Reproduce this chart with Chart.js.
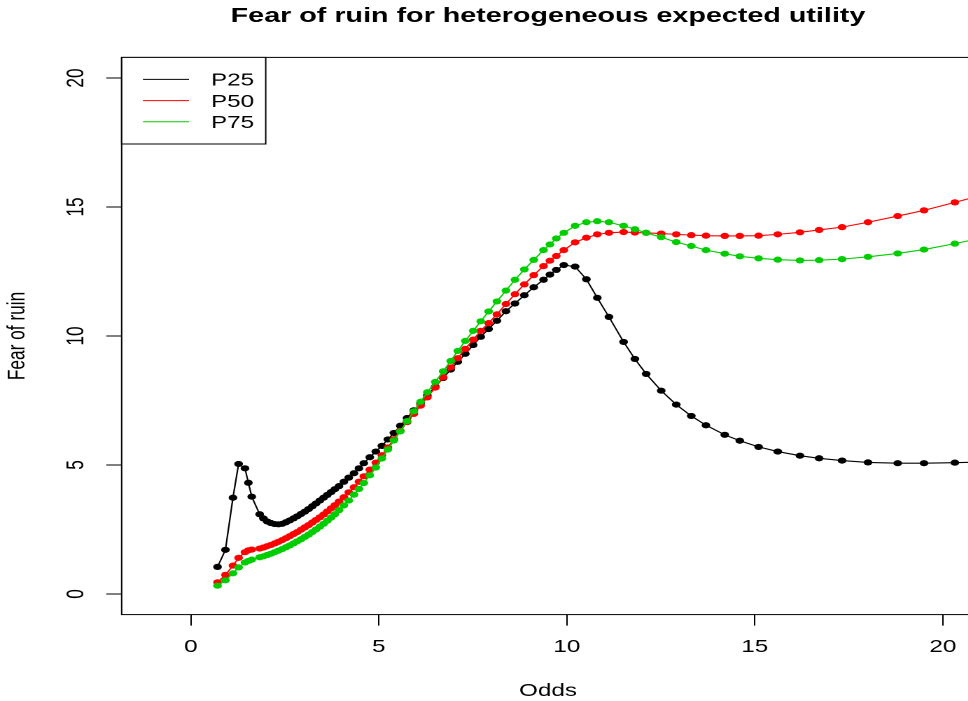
<!DOCTYPE html>
<html>
<head>
<meta charset="utf-8">
<script src="https://cdn.jsdelivr.net/npm/chart.js@4.4.1/dist/chart.umd.min.js"></script>
<style>
  html, body { margin: 0; padding: 0; background: #fff; overflow: hidden; }
  #chart { display: block; }
</style>
</head>
<body>
<!-- drawn at 700 logical px wide, shown 1.4x wider like the original plot -->
<canvas id="chart" width="700" height="701" style="width:980px;height:701px"></canvas>
<script>
const odds = [0.71, 0.92, 1.12, 1.27, 1.44, 1.53, 1.62, 1.83, 1.93, 2.03, 2.13, 2.23, 2.33, 2.43, 2.53, 2.63, 2.73, 2.83, 2.93, 3.03,
  3.13, 3.23, 3.33, 3.43, 3.53, 3.63, 3.73, 3.83, 3.94, 4.07, 4.2, 4.34, 4.47, 4.6, 4.76, 4.92, 5.08, 5.24, 5.4, 5.57,
  5.75, 5.93, 6.11, 6.29, 6.5, 6.71, 6.91, 7.1, 7.3, 7.51, 7.71, 7.92, 8.14, 8.38, 8.62, 8.87, 9.12, 9.38, 9.55, 9.72,
  9.92, 10.22, 10.52, 10.81, 11.12, 11.51, 11.81, 12.11, 12.51, 12.91, 13.31, 13.7, 14.2, 14.6, 15.1, 15.61, 16.2, 16.71, 17.32, 18.01,
  18.8, 19.5, 20.32, 21.2];

const p25 = [1.05, 1.71, 3.73, 5.04, 4.87, 4.31, 3.77, 3.09, 2.93, 2.81, 2.75, 2.71, 2.70, 2.72, 2.78, 2.85, 2.93, 3.01, 3.10, 3.19,
  3.29, 3.40, 3.51, 3.62, 3.73, 3.84, 3.95, 4.06, 4.18, 4.35, 4.51, 4.68, 4.87, 5.07, 5.30, 5.52, 5.74, 5.99, 6.24, 6.52,
  6.82, 7.12, 7.40, 7.70, 8.04, 8.37, 8.70, 9.00, 9.31, 9.65, 9.97, 10.27, 10.59, 10.96, 11.26, 11.58, 11.89, 12.18, 12.38, 12.56,
  12.75, 12.69, 12.20, 11.48, 10.74, 9.77, 9.11, 8.53, 7.88, 7.34, 6.90, 6.54, 6.17, 5.94, 5.70, 5.52, 5.36, 5.26, 5.17, 5.10,
  5.07, 5.07, 5.09, 5.12];

const p50 = [0.45, 0.74, 1.10, 1.40, 1.62, 1.69, 1.72, 1.76, 1.80, 1.85, 1.90, 1.96, 2.02, 2.09, 2.16, 2.24, 2.32, 2.40, 2.49, 2.58,
  2.67, 2.77, 2.87, 2.97, 3.08, 3.20, 3.32, 3.44, 3.58, 3.75, 3.94, 4.14, 4.35, 4.56, 4.82, 5.09, 5.38, 5.68, 6.00, 6.33,
  6.66, 6.98, 7.30, 7.62, 8.00, 8.40, 8.78, 9.14, 9.50, 9.86, 10.20, 10.50, 10.84, 11.24, 11.62, 12.00, 12.36, 12.71, 12.92, 13.10,
  13.33, 13.63, 13.81, 13.94, 14.00, 14.03, 14.01, 14.00, 13.97, 13.94, 13.91, 13.89, 13.88, 13.88, 13.89, 13.94, 14.02, 14.11, 14.22, 14.41,
  14.65, 14.87, 15.18, 15.52];

const p75 = [0.32, 0.53, 0.80, 1.03, 1.22, 1.28, 1.33, 1.42, 1.46, 1.51, 1.56, 1.62, 1.68, 1.74, 1.81, 1.88, 1.96, 2.04, 2.12, 2.21,
  2.30, 2.40, 2.50, 2.61, 2.72, 2.84, 2.96, 3.09, 3.25, 3.43, 3.62, 3.85, 4.07, 4.30, 4.60, 4.90, 5.25, 5.60, 5.95, 6.30,
  6.70, 7.08, 7.45, 7.82, 8.22, 8.63, 9.03, 9.42, 9.81, 10.20, 10.57, 10.95, 11.34, 11.76, 12.18, 12.58, 12.95, 13.33, 13.55, 13.78,
  14.00, 14.27, 14.41, 14.45, 14.41, 14.27, 14.14, 14.00, 13.83, 13.64, 13.49, 13.33, 13.19, 13.09, 13.01, 12.96, 12.93, 12.94, 12.98, 13.07,
  13.20, 13.35, 13.58, 13.85];

const seriesNames = ['P25', 'P50', 'P75'];
const seriesColors = ['#000000', '#ff0000', '#00cd00'];
const xTicks = [0, 5, 10, 15, 20];
const yTicks = [0, 5, 10, 15, 20];

const FONT = '"Liberation Sans", Arial, Helvetica, sans-serif';
Chart.defaults.font.family = FONT;
Chart.defaults.color = '#000';

function pairs(ys) {
  return odds.map((x, i) => ({ x: x, y: ys[i] }));
}

// frame, main title and legend box, drawn the R way
const rStuff = {
  id: 'rStuff',
  afterDraw(chart) {
    const ctx = chart.ctx;
    const a = chart.chartArea;
    ctx.save();
    ctx.strokeStyle = '#000';
    ctx.lineWidth = 1;
    ctx.strokeRect(a.left, a.top, a.right - a.left, a.bottom - a.top);

    ctx.fillStyle = '#000';
    ctx.font = 'bold 20.5px ' + FONT;
    ctx.textAlign = 'center';
    ctx.textBaseline = 'alphabetic';
    ctx.fillText('Fear of ruin for heterogeneous expected utility', (a.left + a.right) / 2, 22);

    // legend
    const bx = a.left, by = a.top, bw = 102.9, bh = 86.6;
    ctx.fillStyle = '#fff';
    ctx.fillRect(bx, by, bw, bh);
    ctx.strokeRect(bx, by, bw, bh);
    ctx.font = '17.3px ' + FONT;
    ctx.textAlign = 'left';
    seriesNames.forEach((name, i) => {
      const y = by + 22 + i * 21.2;
      ctx.strokeStyle = seriesColors[i];
      ctx.beginPath();
      ctx.moveTo(bx + 15.2, y);
      ctx.lineTo(bx + 48.1, y);
      ctx.stroke();
      ctx.fillStyle = '#000';
      ctx.fillText(name, bx + 63.8, y + 6.2);
    });
    ctx.restore();
  }
};

const ctx = document.getElementById('chart').getContext('2d');
const chart = new Chart(ctx, {
  type: 'line',
  data: {
    datasets: [p25, p50, p75].map((ys, i) => ({
      label: seriesNames[i],
      data: pairs(ys),
      borderColor: seriesColors[i],
      backgroundColor: seriesColors[i],
      pointBackgroundColor: seriesColors[i],
      borderWidth: 1.1,
      pointRadius: 3.1,
      pointBorderWidth: 0,
      tension: 0,
      fill: false,
      order: 3 - i
    }))
  },
  options: {
    responsive: false,
    devicePixelRatio: 2,
    animation: false,
    layout: { padding: { top: 57.4, right: 3.7, bottom: 0, left: 0 } },
    plugins: {
      legend: { display: false },
      title: { display: false },
      tooltip: { enabled: false }
    },
    scales: {
      x: {
        type: 'linear',
        min: -1.84,
        max: 20.84,
        afterFit: s => { s.height = 86.4; },
        afterBuildTicks: s => { s.ticks = xTicks.map(v => ({ value: v })); },
        grid: { drawOnChartArea: false, drawTicks: true, tickLength: 11, color: '#000' },
        border: { display: false },
        ticks: { font: { size: 17.3 }, padding: 11.5, maxRotation: 0, color: '#000' },
        title: { display: true, text: 'Odds', font: { size: 17.3 }, padding: { top: 0, bottom: -0.5 }, color: '#000' }
      },
      y: {
        type: 'linear',
        min: -0.8,
        max: 20.8,
        afterFit: s => { s.width = 86.9; },
        afterBuildTicks: s => { s.ticks = yTicks.map(v => ({ value: v })); },
        grid: { drawOnChartArea: false, drawTicks: true, tickLength: 11, color: '#000' },
        border: { display: false },
        ticks: { font: { size: 17.3 }, padding: 11.5, minRotation: 90, maxRotation: 90, crossAlign: 'center', color: '#000' },
        title: { display: true, text: 'Fear of ruin', font: { size: 17.3 }, padding: { top: 2.5, bottom: 0 }, color: '#000' }
      }
    }
  },
  plugins: [rStuff]
});
</script>
</body>
</html>
